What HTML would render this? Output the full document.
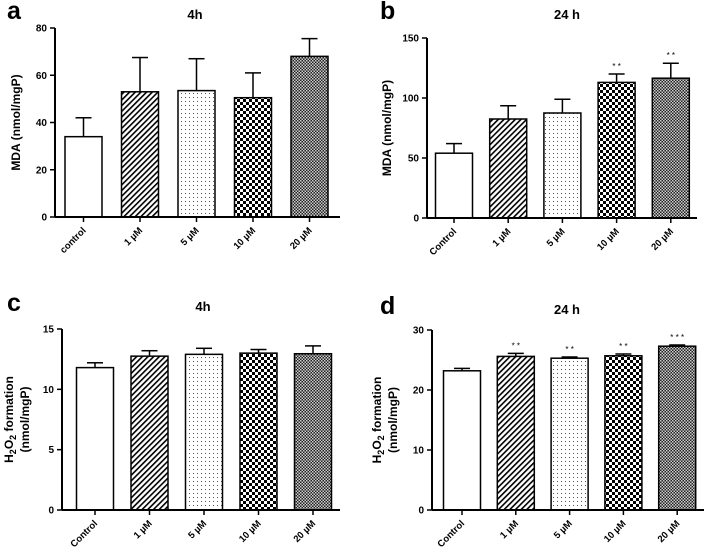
<!DOCTYPE html>
<html><head><meta charset="utf-8"><style>
body{margin:0;background:#fff;}
svg text{font-family:"Liberation Sans",Arial,sans-serif;font-weight:bold;fill:#000;}
</style></head><body>
<svg id="fig" width="707" height="554" viewBox="0 0 707 554" xmlns="http://www.w3.org/2000/svg">
<defs>
<pattern id="p1" patternUnits="userSpaceOnUse" width="4" height="4" patternTransform="rotate(45)"><rect width="4" height="4" fill="#fff"/><rect width="1.6" height="4" fill="#000"/></pattern>
<pattern id="p2" patternUnits="userSpaceOnUse" width="4" height="4"><rect width="4" height="4" fill="#fff"/><rect x="1" y="1" width="1" height="1" fill="#555"/></pattern>
<pattern id="p3" patternUnits="userSpaceOnUse" width="6" height="6"><rect width="6" height="6" fill="#fff"/><rect width="3" height="3" fill="#000"/><rect x="3" y="3" width="3" height="3" fill="#000"/></pattern>
<pattern id="p4" patternUnits="userSpaceOnUse" width="3" height="3"><rect width="3" height="3" fill="#222"/><rect width="1.5" height="1.5" fill="#ccc"/><rect x="1.5" y="1.5" width="1.5" height="1.5" fill="#ccc"/></pattern>
</defs>
</svg>
<script>
const catsA = ['control','1 µM','5 µM','10 µM','20 µM'];
const catsB = ['Control','1 µM','5 µM','10 µM','20 µM'];
const valsA = [34, 53, 53.5, 50.5, 68];
const errA = [42, 67.5, 67, 61, 75.5];
const valsB = [54, 82.5, 87.5, 113, 116.5];
const errB = [62, 93.5, 99, 120, 129];
const valsC = [11.8, 12.75, 12.9, 13.0, 12.95];
const errC = [12.2, 13.2, 13.4, 13.3, 13.6];
const valsD = [23.2, 25.6, 25.3, 25.7, 27.3];
const errD = [23.6, 26.1, 25.5, 26.0, 27.5];
const sigB = ['', '', '', '* *', '* *'];
const sigD = ['', '* *', '* *', '* *', '* * *'];
const ticksA = [0,20,40,60,80];
const ticksB = [0,50,100,150];
const ticksC = [0,5,10,15];
const ticksD = [0,10,20,30];
const fills = ['#fff','url(#p1)','url(#p2)','url(#p3)','url(#p4)'];
const NS = 'http://www.w3.org/2000/svg';
const svg = document.getElementById('fig');
function mk(tag, attrs, parent, txt){
  const e = document.createElementNS(NS, tag);
  for (const k in attrs) e.setAttribute(k, attrs[k]);
  if (txt !== undefined) e.textContent = txt;
  (parent || svg).appendChild(e);
  return e;
}
function panel(o){
  const g = mk('g', {});
  
  
  const ymax = o.ticks[o.ticks.length-1];
  const y = v => o.y0 - (v / ymax) * (o.y0 - o.yTop);
  const x = i => o.x1 + i * o.step;
  const bw = 37;
  o.vals.forEach((v, i) => {
    const cx = x(i);
    const el = mk('line', {x1: cx, x2: cx, y1: y(o.err[i]), y2: y(v), stroke: '#000', 'stroke-width': 1.5}, g);
    
    
    const cap = mk('line', {x1: cx - 8, x2: cx + 8, y1: y(o.err[i]), y2: y(o.err[i]), stroke: '#000', 'stroke-width': 1.5}, g);
    
    
    const r = mk('rect', {x: cx - bw/2, y: y(v), width: bw, height: o.y0 - y(v), fill: fills[i], stroke: '#000', 'stroke-width': 1.5}, g);
    
    
    if (o.sig && o.sig[i]) {
      const s = mk('text', {x: cx, y: y(o.err[i]) - 5, 'text-anchor': 'middle', 'font-size': 8, style: 'font-weight:normal'}, g, o.sig[i]);
      
      
    }
    const tk = mk('line', {x1: cx, x2: cx, y1: o.y0, y2: o.y0 + 5, stroke: '#000', 'stroke-width': 1.5}, g);
    
    
    const lb = mk('text', {x: cx + 3, y: o.y0 + 14, 'text-anchor': 'end', 'font-size': 9.5, transform: `rotate(-45 ${cx + 3} ${o.y0 + 14})`}, g, o.cats[i]);
    
    
  });
  const ya = mk('line', {x1: o.ax, x2: o.ax, y1: o.yTop, y2: o.y0, stroke: '#000', 'stroke-width': 2}, g);
  
  
  const xa = mk('line', {x1: o.ax, x2: o.xEnd, y1: o.y0, y2: o.y0, stroke: '#000', 'stroke-width': 2}, g);
  
  
  o.ticks.forEach(t => {
    const l = mk('line', {x1: o.ax - 5, x2: o.ax, y1: y(t), y2: y(t), stroke: '#000', 'stroke-width': 1.5}, g);
    
    
    const tx = mk('text', {x: o.ax - 8, y: y(t) + 3.5, 'text-anchor': 'end', 'font-size': 10}, g, t);
    
    
  });
  const L = mk('text', {x: o.lx, y: o.ly, 'font-size': 25}, g, o.letter);
  
  
  const T = mk('text', {x: o.tx, y: o.ty, 'text-anchor': 'middle', 'font-size': 13}, g, o.title);
  
  
  const ymid = (o.y0 + o.yTop) / 2;
  if (o.h2o2) {
    const t1 = mk('text', {x: o.yl, y: ymid, 'text-anchor': 'middle', 'font-size': 12, transform: `rotate(-90 ${o.yl} ${ymid})`}, g);
    
    
    t1.innerHTML = 'H<tspan font-size="9" dy="3">2</tspan><tspan dy="-3">O</tspan><tspan font-size="9" dy="3">2</tspan><tspan dy="-3"> formation</tspan>';
    const t2 = mk('text', {x: o.yl + 16, y: ymid, 'text-anchor': 'middle', 'font-size': 12, transform: `rotate(-90 ${o.yl + 16} ${ymid})`}, g, '(nmol/mgP)');
    
    
  } else {
    const t1 = mk('text', {x: o.yl, y: ymid, 'text-anchor': 'middle', 'font-size': 12, transform: `rotate(-90 ${o.yl} ${ymid})`}, g, 'MDA (nmol/mgP)');
    
    
  }
}
panel({letter:'a', title:'4h', cats:catsA, vals:valsA, err:errA, ticks:ticksA, ax:55, xEnd:340, x1:83.5, step:56.5, y0:217, yTop:28, lx:7, ly:19, tx:195, ty:19, yl:20});
panel({letter:'b', title:'24 h', cats:catsB, vals:valsB, err:errB, sig:sigB, ticks:ticksB, ax:427, xEnd:697, x1:454, step:54.2, y0:218, yTop:38, lx:380, ly:19, tx:567, ty:19, yl:391});
panel({letter:'c', title:'4h', cats:catsB, vals:valsC, err:errC, ticks:ticksC, ax:62, xEnd:340, x1:95, step:54.5, y0:510, yTop:329, lx:7, ly:311, tx:203, ty:311, yl:13, h2o2:true});
panel({letter:'d', title:'24 h', cats:catsB, vals:valsD, err:errD, sig:sigD, ticks:ticksD, ax:432, xEnd:704, x1:462, step:53.8, y0:510, yTop:330, lx:380, ly:314, tx:567, ty:314, yl:381, h2o2:true});
</script>
</body></html>
